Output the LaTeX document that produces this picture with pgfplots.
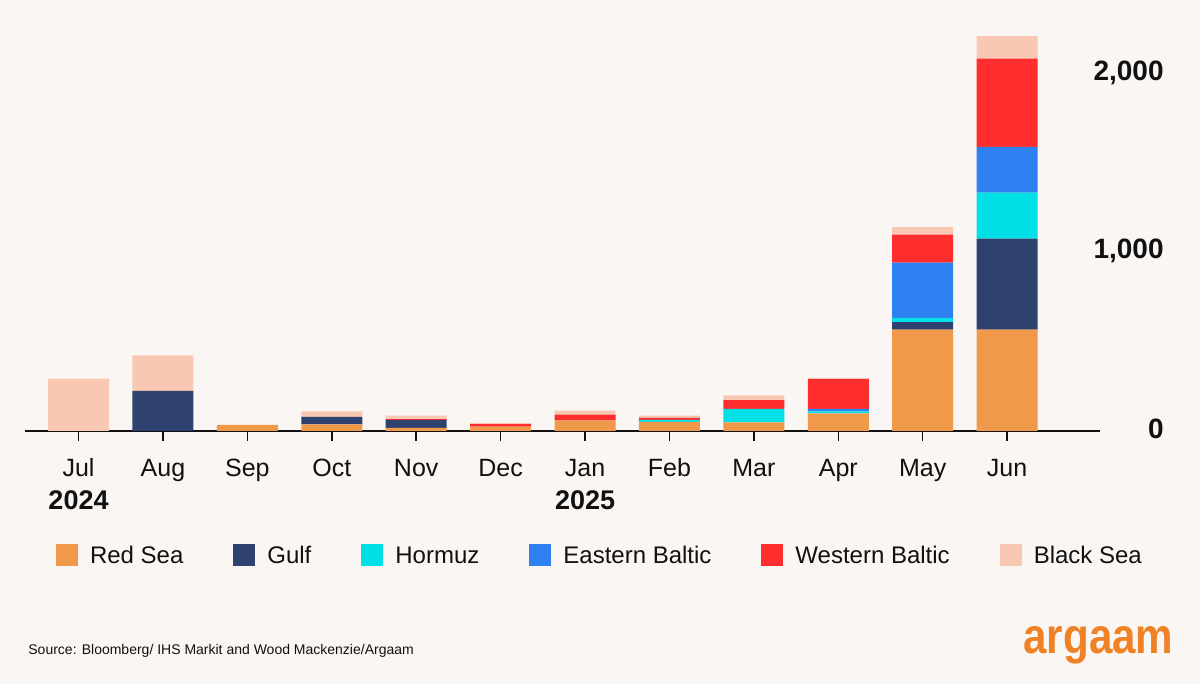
\documentclass[border=0pt]{standalone}
\usepackage{pgfplots}
\usepackage{pgfplotstable}
\pgfplotsset{compat=1.18}
\usepackage{fontspec}
\setmainfont{Liberation Sans}
\usepackage{graphicx}
\definecolor{bgc}{HTML}{FAF6F3}
\definecolor{redsea}{HTML}{F0994B}
\definecolor{gulf}{HTML}{2F416E}
\definecolor{hormuz}{HTML}{00E0E6}
\definecolor{ebaltic}{HTML}{2F80F0}
\definecolor{wbaltic}{HTML}{FF2D2D}
\definecolor{blacksea}{HTML}{F8C8B2}
\definecolor{logoorange}{HTML}{F08226}
\definecolor{txt}{HTML}{111111}
\pgfplotstableread{
x RS Gulf Hormuz EB WB BS
0 0 0 0 0 0 294
1 0 226 0 0 0 199
2 34 0 0 0 0 0
3 37 42 0 0 0 31
4 17 45 0 0 5 19
5 24 0 0 0 15 6
6 60 0 0 0 32 22
7 51 0 11 0 11 13
8 48 0 76 0 50 26
9 99 0 11 14 168 5
10 570 42 23 311 157 43
11 570 511 258 257 496 127
}\datatable
\begin{document}
\begin{tikzpicture}
\fill[bgc] (0,0) rectangle (600pt,342pt);
\begin{axis}[
  at={(12.5pt,126.5pt)}, anchor=south west,
  scale only axis, width=537.5pt, height=204.7pt,
  xmin=-0.634, xmax=12.10, ymin=0, ymax=2300,
  clip=false,
  ybar stacked, bar width=0.723,
  axis x line*=bottom,
  axis y line*=right,
  x axis line style={line width=0.75pt, color=txt, -},
  y axis line style={draw=none},
  xtick={0,...,11},
  xticklabels={Jul,Aug,Sep,Oct,Nov,Dec,Jan,Feb,Mar,Apr,May,Jun},
  tick align=outside,
  major tick length=5pt,
  x tick style={line width=0.75pt, color=txt},
  y tick style={draw=none},
  xticklabel style={anchor=base, yshift=-18pt, inner sep=0pt, text=txt, font=\fontsize{12.5pt}{15pt}\selectfont},
  ytick={0,1000,2000},
  yticklabel style={anchor=east, xshift=27pt, yshift=1pt, inner sep=0pt, text=txt, font=\bfseries\fontsize{14pt}{16pt}\selectfont},
  /pgf/number format/assume math mode=true,
  /pgf/number format/1000 sep={,},
  legend columns=6,
  legend cell align=left,
  legend style={at={(0.02884,-0.3029)}, anchor=west, draw=none, fill=none, inner sep=0pt, outer sep=0pt,
    nodes={inner sep=0pt, text height=8.6pt, text depth=0pt, text=txt, font=\fontsize{12pt}{14pt}\selectfont},
    /tikz/every odd column/.append style={column sep=6pt},
    /tikz/every even column/.append style={column sep=25pt}},
  legend image code/.code={\fill[#1] (0pt,-5.5pt) rectangle (11pt,5.5pt);},
]
\addplot[fill=redsea, draw=none] table[x=x, y=RS] {\datatable};
\addlegendentry{Red Sea}
\addplot[fill=gulf, draw=none] table[x=x, y=Gulf] {\datatable};
\addlegendentry{Gulf}
\addplot[fill=hormuz, draw=none] table[x=x, y=Hormuz] {\datatable};
\addlegendentry{Hormuz}
\addplot[fill=ebaltic, draw=none] table[x=x, y=EB] {\datatable};
\addlegendentry{Eastern Baltic}
\addplot[fill=wbaltic, draw=none] table[x=x, y=WB] {\datatable};
\addlegendentry{Western Baltic}
\addplot[fill=blacksea, draw=none] table[x=x, y=BS] {\datatable};
\addlegendentry{Black Sea}
\node[anchor=base, yshift=-39.5pt, inner sep=0pt, text=txt, font=\bfseries\fontsize{13.5pt}{15pt}\selectfont] at (axis cs:0,0) {2024};
\node[anchor=base, yshift=-39.5pt, inner sep=0pt, text=txt, font=\bfseries\fontsize{13.5pt}{15pt}\selectfont] at (axis cs:6,0) {2025};
\end{axis}
\node[anchor=base west, inner sep=0pt, text=txt, font=\fontsize{7pt}{9pt}\selectfont] at (14pt,14.5pt) {Source: Bloomberg/ IHS Markit and Wood Mackenzie/Argaam};
\node[anchor=base west, inner sep=0pt, text=logoorange] at (511.5pt,15pt) {\resizebox{75pt}{13.5pt}{\bfseries argaam}};
\pgfresetboundingbox
\path (0,0) rectangle (600pt,342pt);
\end{tikzpicture}
\end{document}
